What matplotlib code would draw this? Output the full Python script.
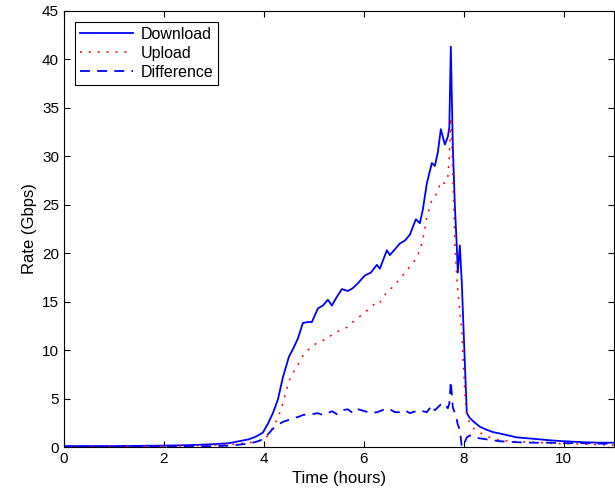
import matplotlib
matplotlib.use("Agg")
import matplotlib.pyplot as plt
import numpy as np

plt.rcParams["font.family"] = ["Liberation Sans", "DejaVu Sans"]

hours = [0, 1, 2, 2.5, 3, 3.3, 3.5, 3.7, 3.85, 3.98,
         4.08, 4.18, 4.28, 4.38, 4.5, 4.6, 4.68, 4.78, 4.88, 4.96,
         5.08, 5.18, 5.28, 5.36, 5.46, 5.56, 5.68, 5.78, 5.88, 6.02,
         6.14, 6.26, 6.32, 6.46, 6.52, 6.62, 6.72, 6.82, 6.92, 7.04,
         7.12, 7.18, 7.26, 7.36, 7.42, 7.48, 7.54, 7.62, 7.68, 7.71,
         7.74, 7.78, 7.82, 7.86, 7.88, 7.92, 7.96, 8.02, 8.06, 8.12,
         8.2, 8.32, 8.45, 8.58, 8.72, 9.06, 9.4, 9.72, 10.0, 10.4,
         10.7, 11.0]

download = [0.1, 0.1, 0.15, 0.2, 0.3, 0.4, 0.6, 0.8, 1.1, 1.5,
            2.4, 3.5, 4.9, 7.2, 9.3, 10.3, 11.2, 12.8, 12.9, 12.9,
            14.3, 14.6, 15.2, 14.6, 15.5, 16.3, 16.1, 16.4, 16.9, 17.7,
            18.0, 18.8, 18.4, 20.3, 19.8, 20.4, 21.0, 21.3, 21.9, 23.5,
            23.1, 24.5, 27.2, 29.3, 29.0, 30.4, 32.8, 31.2, 32.0, 33.0,
            41.3, 31.0, 25.0, 20.6, 18.0, 20.8, 16.9, 8.7, 3.5, 3.0,
            2.6, 2.1, 1.8, 1.55, 1.4, 1.0, 0.85, 0.7, 0.6, 0.5,
            0.45, 0.45]

upload = [0.05, 0.05, 0.1, 0.12, 0.2, 0.25, 0.35, 0.45, 0.55, 0.7,
          1.2, 2.0, 3.0, 4.5, 6.8, 7.8, 8.5, 9.4, 10.0, 10.4,
          10.8, 11.0, 11.2, 11.6, 11.9, 12.1, 12.4, 12.9, 13.3, 13.9,
          14.4, 15.0, 14.9, 16.0, 16.2, 16.8, 17.3, 18.0, 18.6, 19.4,
          20.3, 21.4, 23.7, 25.5, 25.8, 26.4, 27.4, 27.2, 27.9, 30.0,
          34.0, 28.5, 21.0, 17.5, 16.2, 14.0, 12.0, 5.6, 3.1, 2.5,
          1.9, 1.5, 1.1, 0.9, 0.7, 0.55, 0.5, 0.4, 0.35, 0.3,
          0.25, 0.2]

difference = [0.05, 0.05, 0.05, 0.08, 0.1, 0.15, 0.25, 0.35, 0.55, 0.8,
              1.3, 1.9, 2.3, 2.6, 2.8, 3.0, 3.1, 3.3, 3.4, 3.4,
              3.5, 3.3, 3.5, 3.7, 3.4, 3.8, 3.9, 3.5, 3.9, 3.7,
              3.5, 3.6, 3.7, 4.0, 3.9, 3.6, 3.6, 3.8, 3.5, 3.7,
              3.8, 3.7, 3.6, 4.3, 3.8, 4.1, 4.4, 4.5, 4.0, 4.5,
              6.8, 4.1, 3.5, 2.8, 2.3, 1.8, 0.0, 0.5, 1.0, 1.2,
              1.0, 0.9, 0.8, 0.7, 0.6, 0.5, 0.45, 0.45, 0.4, 0.4,
              0.35, 0.35]

fig = plt.figure(figsize=(6.15, 4.94), dpi=100)
ax = fig.add_axes([0.104, 0.095, 0.894, 0.883])

ax.plot(hours, download, color="blue", linewidth=1.3, label="Download")
ax.plot(hours, upload, color="red", linewidth=1.1, linestyle=(0, (1.3, 4.5)),
        label="Upload")
ax.plot(hours, difference, color="blue", linewidth=1.3, linestyle=(0, (5.5, 4)),
        label="Difference")

ax.set_xlim(0, 11)
ax.set_ylim(0, 45)
ax.set_xticks(np.arange(0, 11, 2))
ax.set_yticks(np.arange(0, 46, 5))
ax.tick_params(direction="in", top=True, right=True, labelsize=11, length=4)
ax.set_xlabel("Time (hours)", fontsize=12)
ax.set_ylabel("Rate (Gbps)", fontsize=12)

leg = ax.legend(loc="upper left", fontsize=11.5, fancybox=False, framealpha=1,
                edgecolor="black", handlelength=3.3, borderaxespad=0.7,
                labelspacing=0.25, borderpad=0.3, handletextpad=0.5)
leg.get_frame().set_linewidth(0.8)

fig.savefig("out.png", dpi=100)
